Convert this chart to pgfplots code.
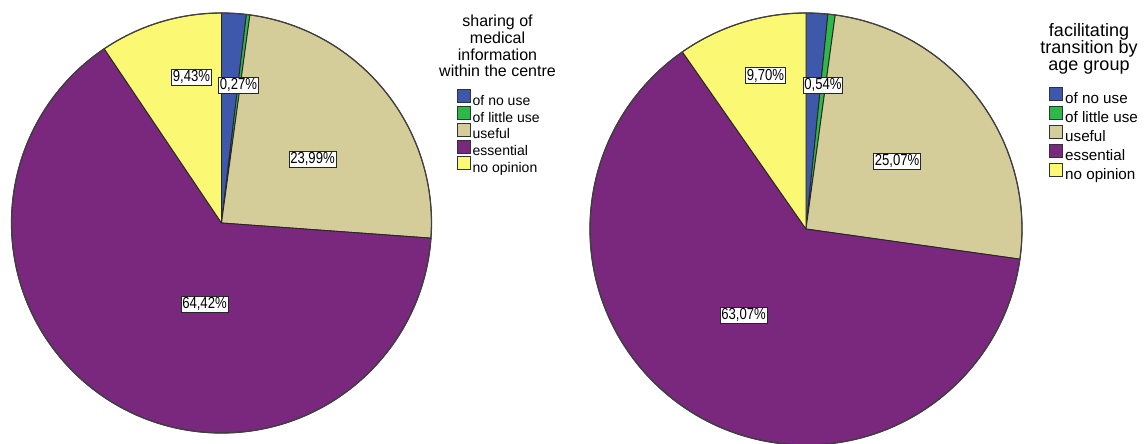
\documentclass[border=0pt]{standalone}
\usepackage{pgfplots}
\usepackage{pgfplotstable}
\pgfplotsset{compat=1.18}
\usepackage{fontspec}
\setmainfont{Liberation Sans}
\newfontfamily\labfont[FakeStretch=0.82]{Liberation Sans}

\definecolor{c0}{RGB}{62,88,172}
\definecolor{c1}{RGB}{46,184,72}
\definecolor{c2}{RGB}{212,205,154}
\definecolor{c3}{RGB}{121,40,125}
\definecolor{c4}{RGB}{251,248,115}

% value = percentage; dx, dy = label offset from centre (px, dy upward)
\pgfplotstableread{
value show dx dy lab
1.89  0    0     0    none
0.27  1    17    138  0,27
23.99 1    91    64   23,99
64.42 1    -17   -81  64,42
9.43  1    -30   146  9,43
}\tblA
\pgfplotstableread{
value show dx dy lab
1.62  0    0     0    none
0.54  1    17    144  0,54
25.07 1    91    68   25,07
63.07 1    -62.5 -86  63,07
9.70  1    -40.5 153.5 9,70
}\tblB

\pgfplotsset{
  /pgfplots/piebox/.style={
    legend image code/.code={\draw[fill=#1, draw=black!80, line width=0.5pt] (0pt,-0.5pt) rectangle (6.5pt,6pt);}
  }
}
\tikzset{pielabel/.style={fill=white, draw=black!85, line width=0.4pt,
  inner xsep=0.6pt, inner ysep=0.7pt, font=\labfont\fontsize{8}{8}\selectfont}}

% #1 table, #2 cx, #3 cy, #4 radius (px)
\newcommand{\drawpie}[4]{%
  \xdef\pieS{90}%
  \pgfplotsforeachungrouped \i in {0,...,4}{%
    \pgfplotstablegetelem{\i}{value}\of#1\let\pieV\pgfplotsretval
    \pgfmathsetmacro\pieE{\pieS-3.6*\pieV}%
    \edef\tmp{\noexpand\filldraw[fill=c\i, draw=black!85, line width=0.45pt, line join=round]
      (axis cs:#2,#3) -- ++(\pieS:#4*0.5pt) arc[start angle=\pieS, end angle=\pieE, radius=#4*0.5pt] -- cycle;}%
    \tmp
    \xdef\pieS{\pieE}%
  }%
  \edef\tmp{\noexpand\draw[black!75, line width=0.6pt] (axis cs:#2,#3) circle[radius=#4*0.5pt];}%
  \tmp
}
\newcommand{\drawlabels}[3]{%
  \pgfplotsforeachungrouped \i in {0,...,4}{%
    \pgfplotstablegetelem{\i}{show}\of#1\let\pieShow\pgfplotsretval
    \ifnum\pieShow=1
      \pgfplotstablegetelem{\i}{dx}\of#1\let\pieDx\pgfplotsretval
      \pgfplotstablegetelem{\i}{dy}\of#1\let\pieDy\pgfplotsretval
      \pgfplotstablegetelem{\i}{lab}\of#1\let\pieLab\pgfplotsretval
      \pgfmathsetmacro\pieLX{#2+\pieDx}%
      \pgfmathsetmacro\pieLY{#3+\pieDy}%
      \edef\tmp{\noexpand\node[pielabel] at (axis cs:\pieLX,\pieLY) {\pieLab\noexpand\%};}%
      \tmp
    \fi
  }%
}

\begin{document}
\begin{tikzpicture}
\path[use as bounding box] (0,0) rectangle (573.5pt,222pt);
\begin{axis}[at={(0,0)}, anchor=south west, x=0.5pt, y=0.5pt,
  xmin=0, xmax=1147, ymin=0, ymax=444, hide axis, clip=false,
  legend cell align=left,
  legend style={draw=none, fill=none, at={(0.398,0.7995)}, anchor=north west,
    inner sep=0pt, row sep=-1.85pt, column sep=0.4pt,
    font=\fontsize{7}{8}\selectfont,
    nodes={inner sep=0.5pt, text height=5.2pt, text depth=1.7pt}}]
\drawpie{\tblA}{221.5}{221}{210}
\drawlabels{\tblA}{221.5}{221}
\addlegendimage{piebox=c0}\addlegendentry{of no use}
\addlegendimage{piebox=c1}\addlegendentry{of little use}
\addlegendimage{piebox=c2}\addlegendentry{useful}
\addlegendimage{piebox=c3}\addlegendentry{essential}
\addlegendimage{piebox=c4}\addlegendentry{no opinion}
\node[align=center, font=\fontsize{8}{8.35}\selectfont, inner sep=0pt] at (axis cs:497.5,398) {sharing of\\medical\\information\\within the centre};
\end{axis}
\begin{axis}[at={(0,0)}, anchor=south west, x=0.5pt, y=0.5pt,
  xmin=0, xmax=1147, ymin=0, ymax=444, hide axis, clip=false,
  legend cell align=left,
  legend style={draw=none, fill=none, at={(0.9142,0.804)}, anchor=north west,
    inner sep=0pt, row sep=-1.1pt, column sep=0.6pt,
    font=\fontsize{7.6}{8.6}\selectfont,
    nodes={inner sep=0.5pt, text height=5.7pt, text depth=1.9pt}}]
\drawpie{\tblB}{806}{215}{216}
\drawlabels{\tblB}{806}{215}
\addlegendimage{piebox=c0}\addlegendentry{of no use}
\addlegendimage{piebox=c1}\addlegendentry{of little use}
\addlegendimage{piebox=c2}\addlegendentry{useful}
\addlegendimage{piebox=c3}\addlegendentry{essential}
\addlegendimage{piebox=c4}\addlegendentry{no opinion}
\node[align=center, font=\fontsize{9}{8.5}\selectfont, inner sep=0pt] at (axis cs:1089,395) {facilitating\\transition by\\age group};
\end{axis}
\end{tikzpicture}
\end{document}
